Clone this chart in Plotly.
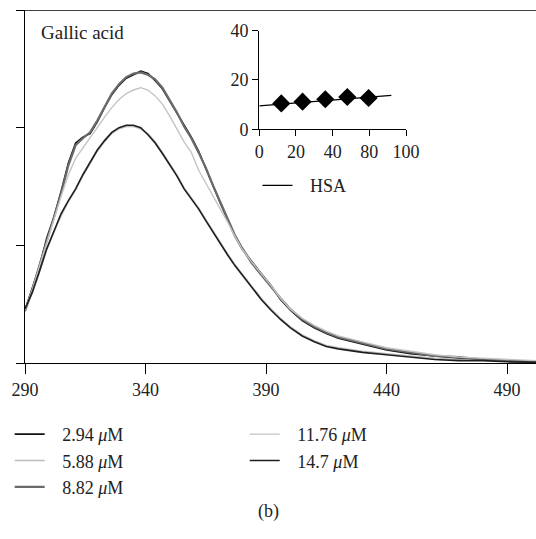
import plotly.graph_objects as go

# wavelength (nm)
wl = [290, 293, 296, 299, 302, 305, 308, 311, 314, 317, 320, 323, 326, 329, 332, 335, 338,
      341, 344, 347, 350, 353, 356, 359, 362, 365, 368, 371, 374, 377, 380, 384, 388, 392,
      396, 400, 405, 410, 415, 420, 430, 440, 450, 460, 470, 480, 490, 502]

c294 = [0.45, 0.63, 0.82, 1.06, 1.24, 1.46, 1.70, 1.87, 1.92, 1.95, 2.05, 2.17, 2.28, 2.36,
        2.42, 2.45, 2.48, 2.46, 2.40, 2.33, 2.23, 2.12, 2.02, 1.92, 1.80, 1.65, 1.50, 1.36,
        1.22, 1.08, 0.97, 0.86, 0.76, 0.66, 0.54, 0.45, 0.36, 0.30, 0.25, 0.21, 0.16, 0.11,
        0.08, 0.06, 0.04, 0.03, 0.02, 0.01]
c588 = [0.45, 0.59, 0.77, 0.96, 1.11, 1.25, 1.37, 1.47, 1.59, 1.70, 1.80, 1.88, 1.95, 1.99,
        2.01, 2.01, 1.99, 1.95, 1.88, 1.79, 1.70, 1.60, 1.49, 1.41, 1.32, 1.22, 1.12, 1.03,
        0.93, 0.84, 0.76, 0.65, 0.55, 0.46, 0.38, 0.31, 0.24, 0.19, 0.15, 0.13, 0.10, 0.08,
        0.06, 0.04, 0.03, 0.02, 0.015, 0.01]
c882 = [0.44, 0.62, 0.83, 1.04, 1.23, 1.44, 1.68, 1.85, 1.91, 1.96, 2.06, 2.18, 2.29, 2.37,
        2.43, 2.46, 2.47, 2.45, 2.41, 2.34, 2.24, 2.13, 2.01, 1.91, 1.79, 1.66, 1.51, 1.37,
        1.23, 1.09, 0.98, 0.85, 0.75, 0.65, 0.55, 0.46, 0.37, 0.31, 0.26, 0.22, 0.17, 0.12,
        0.09, 0.06, 0.05, 0.03, 0.02, 0.01]
c1176 = [0.45, 0.62, 0.82, 1.03, 1.22, 1.42, 1.60, 1.74, 1.83, 1.91, 2.00, 2.09, 2.17, 2.24,
         2.29, 2.32, 2.34, 2.32, 2.27, 2.20, 2.10, 1.99, 1.88, 1.79, 1.64, 1.53, 1.42, 1.32,
         1.20, 1.08, 0.97, 0.86, 0.76, 0.66, 0.55, 0.46, 0.38, 0.32, 0.27, 0.23, 0.18, 0.13,
         0.10, 0.07, 0.05, 0.04, 0.03, 0.02]
c147 = [0.46, 0.60, 0.78, 0.97, 1.12, 1.27, 1.38, 1.48, 1.60, 1.71, 1.81, 1.89, 1.96, 2.00,
        2.02, 2.02, 2.00, 1.94, 1.87, 1.78, 1.69, 1.59, 1.48, 1.40, 1.31, 1.21, 1.11, 1.02,
        0.92, 0.83, 0.75, 0.64, 0.54, 0.45, 0.37, 0.30, 0.23, 0.18, 0.14, 0.12, 0.09, 0.07,
        0.05, 0.03, 0.02, 0.02, 0.01, 0.005]

pad = "\u2002\u2009"
names = [pad + "2.94 <i>μ</i>M", pad + "5.88 <i>μ</i>M", pad + "8.82 <i>μ</i>M",
         pad + "11.76 <i>μ</i>M", pad + "14.7 <i>μ</i>M"]
series = [c294, c588, c882, c1176, c147]
colors = ["#111111", "#bdbdbd", "#6a6a6a", "#c4c4c4", "#1e1e1e"]
widths = [1.6, 1.4, 2.2, 1.4, 1.6]
legends = ["legend", "legend", "legend", "legend3", "legend3"]

# inset: HSA
ins_x = [15, 29.5, 45, 60, 74.5]
ins_y = [10.5, 11.2, 12.2, 13.1, 12.7]
fit_x = [0, 90]
fit_y = [9.5, 13.8]

font = dict(family="Liberation Serif", size=18, color="#222")

fig = go.Figure()
for s, n, c, w, lg in zip(series, names, colors, widths, legends):
    fig.add_trace(go.Scatter(x=wl, y=s, mode="lines", name=n, legend=lg,
                             line=dict(color=c, width=w)))

fig.add_trace(go.Scatter(x=fit_x, y=fit_y, mode="lines", name=pad + "HSA", legend="legend2",
                         line=dict(color="black", width=1.3), xaxis="x2", yaxis="y2"))
fig.add_trace(go.Scatter(x=ins_x, y=ins_y, mode="markers", showlegend=False,
                         marker=dict(symbol="diamond", size=14, color="black"),
                         xaxis="x2", yaxis="y2"))

fig.add_shape(type="line", xref="paper", yref="y", x0=-0.016, x1=1, y0=3, y1=3,
              line=dict(color="black", width=1.3))

fig.update_layout(
    autosize=False, width=536, height=539,
    margin=dict(l=25, r=0, t=10, b=176, autoexpand=False),
    plot_bgcolor="white", paper_bgcolor="white",
    font=font,
    xaxis=dict(range=[290, 502], tickvals=[290, 340, 390, 440, 490], ticks="outside",
               ticklen=10, tickcolor="black", showline=True, linecolor="black",
               linewidth=1.3, showgrid=False, zeroline=False),
    yaxis=dict(range=[0, 3], tickvals=[0, 1, 2, 3], showticklabels=False, ticks="outside",
               ticklen=8, tickcolor="black", showline=True, linecolor="black",
               linewidth=1.3, showgrid=False, zeroline=False),
    xaxis2=dict(domain=[0.4585, 0.7456], anchor="y2", range=[0, 100],
                tickvals=[0, 25, 50, 75, 100], ticktext=["0", "20", "40", "80", "100"],
                ticks="outside", ticklen=6, tickcolor="black", showline=True,
                linecolor="black", linewidth=1.3, showgrid=False, zeroline=False),
    yaxis2=dict(domain=[0.662, 0.9414], anchor="x2", range=[0, 40], tickvals=[0, 20, 40],
                ticks="outside", ticklen=6, tickcolor="black", showline=True,
                linecolor="black", linewidth=1.3, showgrid=False, zeroline=False),
    legend=dict(x=-0.03, y=-0.15, xanchor="left", yanchor="top", bgcolor="rgba(0,0,0,0)",
                font=font, itemwidth=30),
    legend3=dict(x=0.43, y=-0.15, xanchor="left", yanchor="top", bgcolor="rgba(0,0,0,0)",
                 font=font, itemwidth=30),
    legend2=dict(x=0.455, y=0.555, xanchor="left", yanchor="top", bgcolor="rgba(0,0,0,0)",
                 font=font, itemwidth=30),
    annotations=[
        dict(text="Gallic acid", x=0.028, y=0.935, xref="paper", yref="paper",
             xanchor="left", yanchor="middle", showarrow=False,
             font=dict(family="Liberation Serif", size=19, color="#222")),
        dict(text="(b)", x=0.476, y=-0.42, xref="paper", yref="paper",
             xanchor="center", yanchor="middle", showarrow=False, font=font),
    ],
)

fig.write_html("out.html", config={"displayModeBar": False, "responsive": False},
               post_script="document.documentElement.style.overflow='hidden';"
                           "document.body.style.overflow='hidden';"
                           "document.body.style.margin='0';")
